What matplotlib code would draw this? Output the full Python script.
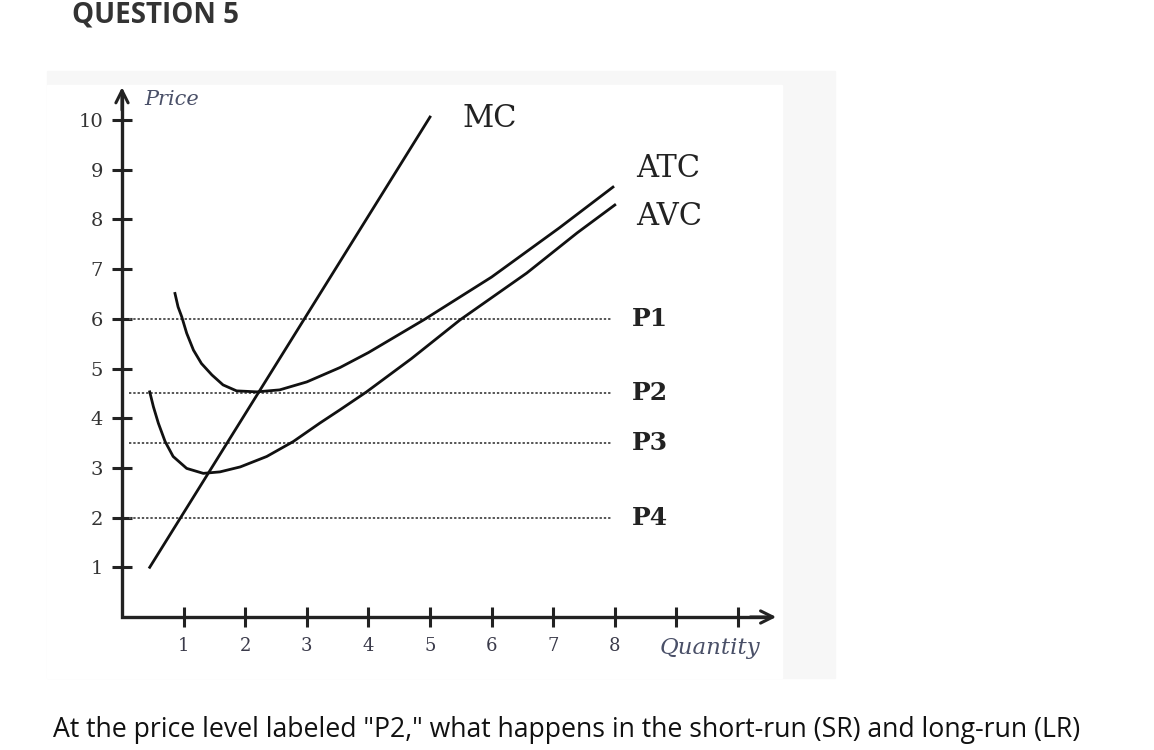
import matplotlib.pyplot as plt
from matplotlib.patches import Rectangle

# values
mc_q = [0.45, 5.0]
mc_p = [1.0, 10.06]

atc_q = [0.86, 0.91, 0.97, 1.05, 1.16, 1.29, 1.46, 1.64, 1.86, 2.19, 2.56, 3.0, 3.54,
         4.0, 4.9, 6.0, 7.1, 7.97]
atc_p = [6.51, 6.24, 6.04, 5.71, 5.37, 5.10, 4.87, 4.67, 4.55, 4.53, 4.57, 4.73, 5.02,
         5.32, 5.98, 6.84, 7.83, 8.65]

avc_q = [0.45, 0.51, 0.59, 0.70, 0.83, 1.05, 1.32, 1.59, 1.92, 2.35, 2.78, 3.21, 3.54,
         3.97, 4.7, 5.49, 6.57, 7.39, 8.0]
avc_p = [4.53, 4.23, 3.90, 3.53, 3.23, 2.99, 2.89, 2.92, 3.02, 3.23, 3.53, 3.90, 4.17,
         4.53, 5.2, 5.98, 6.92, 7.73, 8.29]

price_names = ["P1", "P2", "P3", "P4"]
price_levels = [6.0, 4.5, 3.5, 2.0]

x_ticks = [1, 2, 3, 4, 5, 6, 7, 8, 9, 10]
x_tick_labels = ["1", "2", "3", "4", "5", "6", "7", "8", "", ""]
y_ticks = [1, 2, 3, 4, 5, 6, 7, 8, 9, 10]

W, H = 1154, 750
fig = plt.figure(figsize=(W / 100, H / 100), dpi=100)

# screenshot frame behind the picture
fig.patches.append(Rectangle((47 / W, (H - 678) / H), (835 - 47) / W, (678 - 71) / H,
                             transform=fig.transFigure, color="#f7f7f7", zorder=-2))
fig.patches.append(Rectangle((47 / W, (H - 678) / H), (782 - 47) / W, (678 - 85) / H,
                             transform=fig.transFigure, color="white", zorder=-1))

fig.text(72 / W, 1 - 15 / H, "QUESTION 5", fontfamily="Open Sans", fontweight="bold",
         fontsize=20, color="#333333", va="center", ha="left")
fig.text(53 / W, 1 - 730 / H,
         'At the price level labeled "P2," what happens in the short-run (SR) and long-run (LR)',
         fontfamily="Open Sans", fontsize=19.2, color="#111111", va="center", ha="left")

ax = fig.add_axes([122 / W, (H - 617) / H, 11 * 61.6 / W, 11 * 49.7 / H])
ax.set_zorder(2)
ax.set_xlim(0, 11)
ax.set_ylim(0, 11)
ax.patch.set_visible(False)
for s in ax.spines.values():
    s.set_visible(False)

serif = "DejaVu Serif"
axc = "#222222"

# axes with arrows
ax.plot([0, 0, 10.45], [10.5, 0, 0], color=axc, lw=2.4, solid_joinstyle="miter",
        clip_on=False)
ax.annotate("", xy=(10.62, 0), xytext=(10.2, 0),
            arrowprops=dict(arrowstyle="->", lw=2.2, color=axc, mutation_scale=22,
                            shrinkA=0, shrinkB=0), annotation_clip=False)
ax.annotate("", xy=(0, 10.66), xytext=(0, 10.2),
            arrowprops=dict(arrowstyle="->", lw=2.2, color=axc, mutation_scale=22,
                            shrinkA=0, shrinkB=0), annotation_clip=False)

ax.set_xticks(x_ticks)
ax.set_xticklabels(x_tick_labels, fontfamily=serif, fontsize=13, color="#3a3a4a")
ax.set_yticks(y_ticks)
ax.set_yticklabels([str(v) for v in y_ticks], fontfamily=serif, fontsize=14, color="#333333")
ax.tick_params(direction="inout", length=15, width=2.2, color=axc)
ax.tick_params(axis="x", pad=7)
ax.tick_params(axis="y", pad=6)

# price levels
for name, p in zip(price_names, price_levels):
    ax.plot([0.12, 7.95], [p, p], color="#555555", lw=1.4, linestyle=(0, (1.2, 1.0)))
    ax.text(8.28, p, name, fontfamily=serif, fontweight="bold", fontsize=18,
            color="#222222", va="center", ha="left")

# cost curves
for q, p in [(mc_q, mc_p), (atc_q, atc_p), (avc_q, avc_p)]:
    ax.plot(q, p, color="#111111", lw=2.0, solid_joinstyle="round")

ax.text(5.97, 10.04, "MC", fontfamily=serif, fontsize=22, color="#222222",
        va="center", ha="center")
ax.text(8.34, 9.03, "ATC", fontfamily=serif, fontsize=22, color="#222222",
        va="center", ha="left")
ax.text(8.34, 8.05, "AVC", fontfamily=serif, fontsize=22, color="#222222",
        va="center", ha="left")

ax.text(0.37, 10.42, "Price", fontfamily=serif, fontstyle="italic", fontsize=15,
        color="#4a5068", va="center", ha="left")
ax.text(8.73, -0.63, "Quantity", fontfamily=serif, fontstyle="italic", fontsize=16.5,
        color="#4a5068", va="center", ha="left")

fig.savefig("out.png", dpi=100)
